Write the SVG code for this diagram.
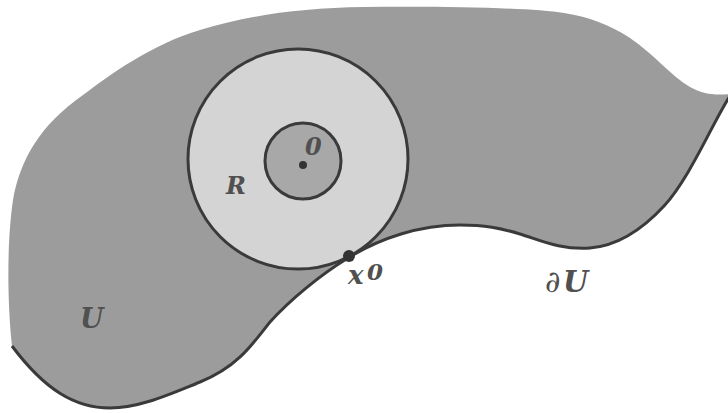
<svg xmlns="http://www.w3.org/2000/svg" width="728" height="413" viewBox="0 0 728 413">
<style>
.ln{stroke:#3a3a3a;stroke-width:3;}
.open{fill:none;}
.lbl{font-family:"DejaVu Serif",serif;font-style:italic;font-weight:bold;fill:#505050;}
</style>
<rect width="728" height="413" fill="#ffffff"/>
<g id="U">
<path fill="#9c9c9c" d="M 12,346 C 7,300 7,240 13,200 C 20,160 40,125 83,95 C 110,75 150,45 200,30 C 250,15 300,8 364,7 C 450,6 530,8 564,13 C 590,17 610,25 630,38 C 655,55 670,75 690,87 C 705,95 715,95 730,94 L 730,96 C 715,118 690,178 664,206 C 640,232 615,246 590,248 C 560,250 540,240 520,234 C 500,228 485,225 460,225 C 420,225 380,238 348,258 C 320,275 290,300 270,322 C 250,348 235,368 200,382 C 170,394 140,408 110,408 C 75,408 45,390 12,346 Z"/>
</g>
<g id="boundary">
<path class="ln open" d="M 730,96 C 715,118 690,178 664,206 C 640,232 615,246 590,248 C 560,250 540,240 520,234 C 500,228 485,225 460,225 C 420,225 380,238 348,258 C 320,275 290,300 270,322 C 250,348 235,368 200,382 C 170,394 140,408 110,408 C 75,408 45,390 12,346"/>
</g>
<g id="ballR">
<circle class="ln" cx="298" cy="159" r="110" fill="#d4d4d4"/>
</g>
<g id="ball0">
<circle class="ln" cx="303" cy="161" r="38" fill="#a8a8a8"/>
<circle cx="303" cy="165" r="4" fill="#333"/>
</g>
<g id="x0pt">
<circle cx="349" cy="256" r="6" fill="#333"/>
</g>
<g id="labels">
<text class="lbl" x="305" y="155" font-size="24" font-weight="normal">0</text>
<text class="lbl" x="226" y="194" font-size="24">R</text>
<text class="lbl" x="348" y="284" font-size="26">x</text>
<text class="lbl" x="367" y="280" font-size="23" font-weight="normal">0</text>
<text x="545" y="292" font-size="30" font-style="italic" fill="#505050" font-family="'DejaVu Serif',serif">∂</text>
<text class="lbl" x="563" y="292" font-size="29">U</text>
<text class="lbl" x="80" y="328" font-size="27">U</text>
</g>
</svg>
